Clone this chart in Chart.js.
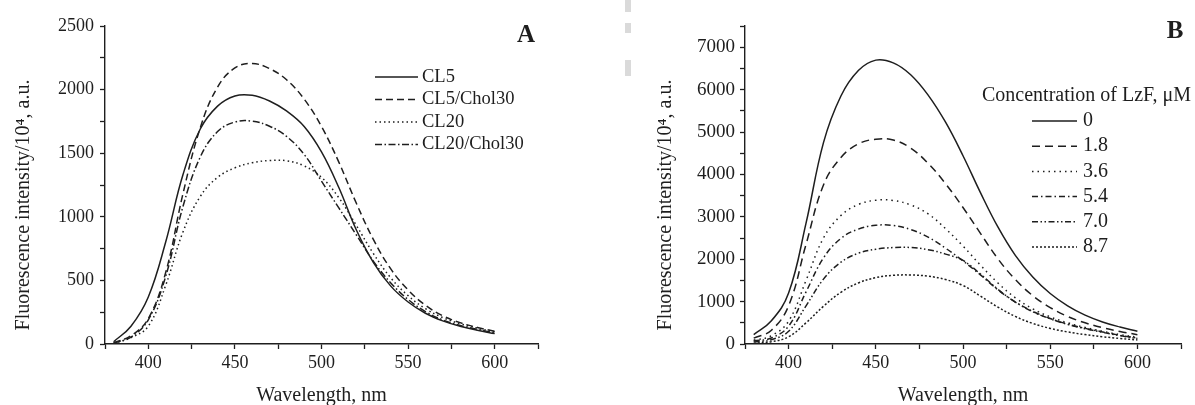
<!DOCTYPE html>
<html>
<head>
<meta charset="utf-8">
<script src="https://cdn.jsdelivr.net/npm/chart.js@4.4.1/dist/chart.umd.min.js"></script>
<style>
  html, body { margin: 0; padding: 0; background: #fff; }
  body { width: 1195px; height: 405px; position: relative; overflow: hidden; }
  canvas { position: absolute; top: 0; }
  #chartA { left: 0; }
  #chartB { left: 600px; }
  .smudge {
    position: absolute; left: 625px; top: 0; width: 6px; height: 76px;
    background: linear-gradient(#dadada 0 12px, transparent 12px 23px, #dadada 23px 33px, transparent 33px 60px, #dadada 60px 76px);
  }
</style>
</head>
<body>
<div class="smudge"></div>
<canvas id="chartA" width="560" height="405"></canvas>
<canvas id="chartB" width="595" height="405"></canvas>
<script>
// wavelength grid shared by both panels (nm)
const wavelengths = [380, 390, 400, 410, 420, 430, 440, 450, 460, 470, 480, 490,
                     500, 510, 520, 530, 540, 550, 560, 570, 580, 590, 600];

// panel A - liposome compositions
const labelsA = ['CL5', 'CL5/Chol30', 'CL20', 'CL20/Chol30'];
const cl5        = [18, 140, 370, 800, 1330, 1690, 1870, 1950, 1955, 1910, 1830, 1710, 1510, 1230, 900, 640, 455, 330, 242, 182, 140, 108, 82];
const cl5Chol30  = [10, 65, 200, 560, 1180, 1700, 2020, 2170, 2205, 2165, 2075, 1925, 1710, 1430, 1110, 820, 590, 425, 305, 222, 168, 130, 100];
const cl20       = [5, 50, 140, 460, 880, 1160, 1310, 1385, 1425, 1442, 1440, 1400, 1310, 1150, 935, 710, 520, 380, 278, 208, 160, 125, 96];
const cl20Chol30 = [8, 55, 190, 530, 1080, 1470, 1670, 1745, 1752, 1712, 1630, 1490, 1280, 1070, 860, 650, 480, 350, 255, 190, 146, 115, 88];
const ticksA = { min: 375, max: 625, yMax: 2500, yStep: 250, yLabelEvery: 500 };

// panel B - LzF concentration series (uM)
const labelsB = ['0', '1.8', '3.6', '5.4', '7.0', '8.7'];
const lzf0   = [220, 540, 1200, 2850, 4750, 5850, 6450, 6695, 6630, 6350, 5870, 5230, 4440, 3570, 2760, 2090, 1580, 1190, 900, 680, 520, 400, 300];
const lzf1_8 = [140, 320, 900, 2350, 3750, 4400, 4720, 4830, 4810, 4620, 4260, 3780, 3220, 2610, 2010, 1520, 1140, 860, 650, 500, 385, 295, 220];
const lzf3_6 = [90, 190, 540, 1500, 2500, 3030, 3290, 3390, 3385, 3280, 3070, 2720, 2310, 1860, 1440, 1090, 830, 640, 500, 390, 300, 220, 160];
const lzf5_4 = [70, 140, 420, 1230, 2030, 2490, 2710, 2800, 2795, 2700, 2520, 2260, 1960, 1630, 1280, 990, 770, 600, 470, 370, 285, 205, 140];
const lzf7_0 = [50, 100, 300, 900, 1530, 1930, 2140, 2235, 2275, 2275, 2225, 2120, 1970, 1650, 1290, 990, 760, 595, 462, 360, 275, 198, 130];
const lzf8_7 = [20, 55, 170, 500, 890, 1220, 1440, 1565, 1620, 1628, 1600, 1520, 1380, 1130, 870, 650, 485, 368, 285, 222, 172, 130, 95];
const ticksB = { min: 375, max: 625, yMax: 7500, yStep: 500, yLabelEvery: 1000 };

const ink = '#1e1e1e';
const serif = '"Liberation Serif", "Times New Roman", serif';
const yTitle = 'Fluorescence intensity/10\u2074, a.u.' + '\u00a0'.repeat(8);

const dashesA = [[], [7, 4], [1.5, 3], [7, 2.5, 1.5, 2.5]];
const dashesB = [[], [8, 5], [1.5, 4], [6, 3, 1.5, 3], [6, 2.5, 1.5, 2.5, 1.5, 2.5], [2, 2]];

function toSeries(labels, series, dashes) {
    return series.map((vals, i) => ({
        label: labels[i],
        data: wavelengths.map((w, j) => ({ x: w, y: vals[j] })),
        borderColor: ink,
        borderWidth: 1.5,
        borderDash: dashes[i],
        pointRadius: 0,
        tension: 0.4,
        fill: false
    }));
}

// draws the line-sample key and the panel letter
const keyPlugin = {
    id: 'key',
    afterDraw(chart, args, opts) {
        const ctx = chart.ctx;
        ctx.save();
        ctx.fillStyle = ink;
        ctx.textBaseline = 'middle';
        ctx.textAlign = 'left';
        ctx.font = `${opts.size}px ${serif}`;
        if (opts.title) ctx.fillText(opts.title, opts.titleX, opts.titleY);
        chart.data.datasets.forEach((ds, i) => {
            const y = opts.y + i * opts.rowH;
            ctx.beginPath();
            ctx.setLineDash(ds.borderDash);
            ctx.lineWidth = ds.borderWidth;
            ctx.strokeStyle = ds.borderColor;
            ctx.moveTo(opts.x, y);
            ctx.lineTo(opts.x + opts.len, y);
            ctx.stroke();
            ctx.setLineDash([]);
            ctx.fillText(ds.label, opts.x + opts.len + opts.gap, y);
        });
        ctx.font = `bold 25px ${serif}`;
        ctx.textAlign = 'center';
        ctx.fillText(opts.letter, opts.letterX, opts.letterY);
        ctx.restore();
    }
};

function buildChart(id, datasets, t, layout, key) {
    return new Chart(document.getElementById(id), {
        type: 'line',
        data: { datasets },
        plugins: [keyPlugin],
        options: {
            responsive: false,
            animation: false,
            devicePixelRatio: 1,
            layout: { padding: { top: 26, right: layout.right, bottom: 0, left: 0 } },
            plugins: {
                legend: { display: false },
                tooltip: { enabled: false },
                key: key
            },
            scales: {
                x: {
                    type: 'linear',
                    min: t.min, max: t.max,
                    afterFit: s => { s.height = 61; },
                    ticks: {
                        stepSize: 25, autoSkip: false, maxRotation: 0, padding: 3,
                        color: ink, font: { family: serif, size: 18 },
                        callback: v => (v % 50 === 0 ? v : '')
                    },
                    grid: { drawOnChartArea: false, tickLength: 5, color: ink, tickWidth: 1.3 },
                    border: { color: ink, width: 1.4 },
                    title: {
                        display: true, text: 'Wavelength, nm', color: ink,
                        font: { family: serif, size: 20, lineHeight: 0.9 },
                        padding: { top: 0, bottom: 0 }
                    }
                },
                y: {
                    min: 0, max: t.yMax,
                    afterFit: s => { s.width = layout.yWidth; },
                    ticks: {
                        stepSize: t.yStep, autoSkip: false, padding: layout.yPad,
                        color: ink, font: { family: serif, size: layout.ySize },
                        callback: v => (v % t.yLabelEvery === 0 ? v : '')
                    },
                    grid: { drawOnChartArea: false, tickLength: 5, color: ink, tickWidth: 1.3 },
                    border: { color: ink, width: 1.4 },
                    title: {
                        display: true, text: yTitle, color: ink,
                        font: { family: serif, size: 20 },
                        padding: { top: layout.titlePad, bottom: 0 }
                    }
                }
            }
        }
    });
}

buildChart('chartA',
    toSeries(labelsA, [cl5, cl5Chol30, cl20, cl20Chol30], dashesA),
    ticksA,
    { right: 22, yWidth: 105, yPad: 6, ySize: 18, titlePad: 12 },
    { size: 18.5, x: 375, y: 77, rowH: 22.5, len: 43, gap: 4, letter: 'A', letterX: 526, letterY: 36 });

buildChart('chartB',
    toSeries(labelsB, [lzf0, lzf1_8, lzf3_6, lzf5_4, lzf7_0, lzf8_7], dashesB),
    ticksB,
    { right: 14, yWidth: 145, yPad: 5, ySize: 19, titlePad: 54 },
    { size: 20, title: 'Concentration of LzF, \u03bcM', titleX: 382, titleY: 96,
      x: 432, y: 121, rowH: 25.2, len: 45, gap: 6, letter: 'B', letterX: 575, letterY: 32 });
</script>
</body>
</html>
